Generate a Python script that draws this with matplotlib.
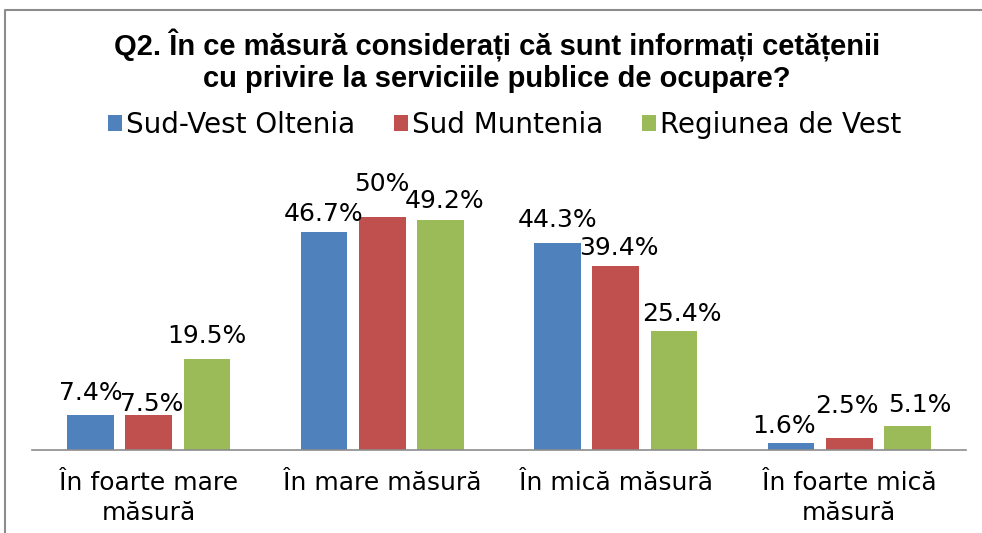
import matplotlib
matplotlib.use("Agg")
import matplotlib.pyplot as plt
import numpy as np
from matplotlib.lines import Line2D

# date citite din imaginea de referinta
categories = ["În foarte mare\nmăsură", "În mare măsură", "În mică măsură", "În foarte mică\nmăsură"]
series_names = ["Sud-Vest Oltenia", "Sud Muntenia", "Regiunea de Vest"]
sud_vest_oltenia = [7.4, 46.7, 44.3, 1.6]
sud_muntenia = [7.5, 50.0, 39.4, 2.5]
regiunea_de_vest = [19.5, 49.2, 25.4, 5.1]
label_texts = [
    ["7.4%", "46.7%", "44.3%", "1.6%"],
    ["7.5%", "50%", "39.4%", "2.5%"],
    ["19.5%", "49.2%", "25.4%", "5.1%"],
]

colors = ["#4F81BD", "#C0504D", "#9BBB59"]
# pozitia etichetelor (pixeli fata de varful barei), asezate manual ca in Excel
label_offsets = [
    [(0, 15), (0, 11), (0, 16), (-7, 10)],
    [(3, 4), (0, 26), (3, 11), (-2, 25)],
    [(0, 16), (4, 12), (8, 10), (12, 14)],
]

plt.rcParams["font.family"] = ["DejaVu Sans"]

fig = plt.figure(figsize=(9.82, 5.33), dpi=100)
ax = fig.add_axes([0.0326, 0.1557, 0.9511, 0.5254])

x = np.arange(len(categories))
width = 0.2
step = 0.25
all_series = [sud_vest_oltenia, sud_muntenia, regiunea_de_vest]

for i, (vals, name, color) in enumerate(zip(all_series, series_names, colors)):
    pos = x + (i - 1) * step
    ax.bar(pos, vals, width=width, color=color, label=name, linewidth=0)
    for j, v in enumerate(vals):
        dx, dy = label_offsets[i][j]
        ax.annotate(label_texts[i][j], (pos[j], v), xytext=(dx, dy),
                    textcoords="offset pixels", ha="center", va="baseline",
                    fontsize=18, color="black")

ax.set_xlim(-0.5, len(categories) - 0.5)
ax.set_ylim(0, 60)
ax.set_yticks([])
ax.set_xticks(x)
ax.set_xticklabels(categories, fontsize=18, linespacing=1.35)
ax.tick_params(axis="x", length=0, pad=15)
for side in ["top", "right", "left"]:
    ax.spines[side].set_visible(False)
ax.spines["bottom"].set_color("#8c8c8c")
ax.spines["bottom"].set_linewidth(1.2)

fig.text(0.506, 1 - 29 / 533,
         "Q2. În ce măsură considerați că sunt informați cetățenii\n"
         "cu privire la serviciile publice de ocupare?",
         ha="center", va="top", fontsize=21, fontweight="bold",
         family=["Liberation Sans", "DejaVu Sans"],
         linespacing=1.15)

fig.legend(loc="center", bbox_to_anchor=(0.514, 1 - 125 / 533), ncol=3,
           frameon=False, fontsize=20, handlelength=0.5, handleheight=0.5,
           handletextpad=0.15, columnspacing=1.4)

# chenarul graficului (doar sus si stanga sunt vizibile)
fig.add_artist(Line2D([5 / 982, 5 / 982, 1.0], [0.0, 1 - 10 / 533, 1 - 10 / 533],
                      transform=fig.transFigure, color="#8c8c8c", linewidth=1.5))

fig.savefig("out.png", dpi=100)
